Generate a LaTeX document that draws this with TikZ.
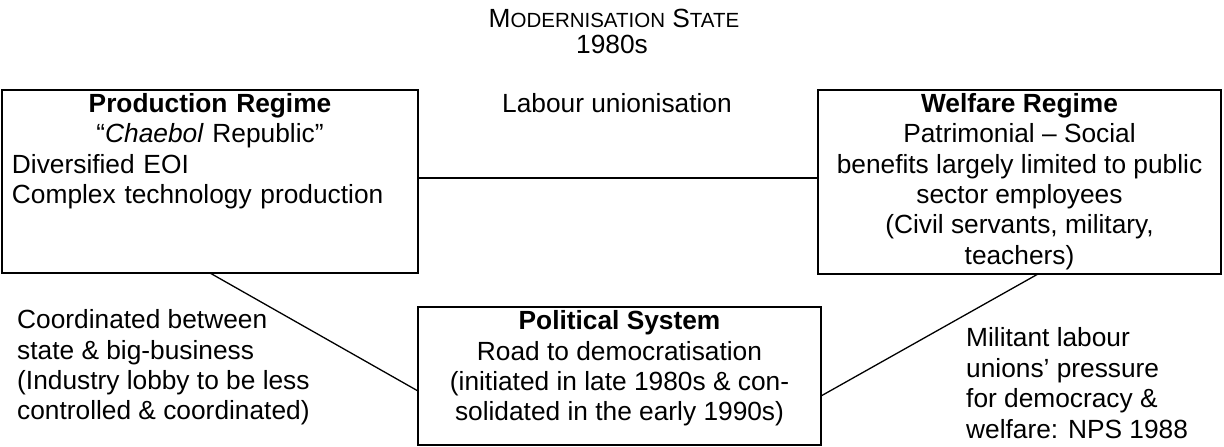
\documentclass[tikz,border=0pt]{standalone}
\usepackage{fontspec}
\setmainfont{Liberation Sans}
\usetikzlibrary{calc}
\newcommand\smc[1]{{\fontsize{20.5}{30.5}\selectfont #1}}
\begin{document}
\begin{tikzpicture}[x=1pt,y=-1pt,
  box/.style={draw, line width=1.6pt, inner sep=0pt, outer sep=0pt},
  txt/.style={inner sep=0pt, font=\fontsize{26.3}{30.4}\selectfont},
  link/.style={line width=1.3pt}]
\useasboundingbox (0,0) rectangle (1224,447);
% title
\node[txt] (title) at (614,18) {M\smc{ODERNISATION} S\smc{TATE}};
\node[txt] (year) at (612,44) {1980s};
% boxes
\node[box, minimum width=416pt, minimum height=183pt] (pr) at (210,181.5) {};
\node[box, minimum width=403pt, minimum height=184pt] (wr) at (1019.5,182) {};
\node[box, minimum width=403pt, minimum height=138pt] (ps) at (619.5,376) {};
% box texts
\node[txt, text width=396pt, align=left] (prt) at (210,151)
  {{\centering\textbf{Production Regime}\\“\textit{Chaebol} Republic”\par}Diversified EOI\\Complex technology production};
\node[txt, align=center] (wrt) at (1019.5,181.5)
  {\textbf{Welfare Regime}\\Patrimonial – Social\\benefits largely limited to public\\sector employees\\(Civil servants, military,\\teachers)};
\node[txt, align=center] (pst) at (619.5,368.5)
  {\textbf{Political System}\\Road to democratisation\\(initiated in late 1980s \& con-\\solidated in the early 1990s)};
% connectors
\coordinate (h1) at ([yshift=3.5pt]pr.east);
\draw[link] (h1) -- (h1 -| wr.west);
\draw[link] (pr.south) -- ([yshift=-15pt]ps.west);
\draw[link] ([xshift=18.5pt]wr.south) -- ([yshift=-20pt]ps.east);
% labels
\node[txt] (lu) at (617,103) {Labour unionisation};
\node[txt, align=left, anchor=west] (cl) at (17,367.5)
  {Coordinated between\\state \& big-business\\(Industry lobby to be less\\controlled \& coordinated)};
\node[txt, align=left, anchor=west] (ml) at (966,383)
  {Militant labour\\unions’ pressure\\for democracy \&\\welfare: NPS 1988};
\end{tikzpicture}
\end{document}
